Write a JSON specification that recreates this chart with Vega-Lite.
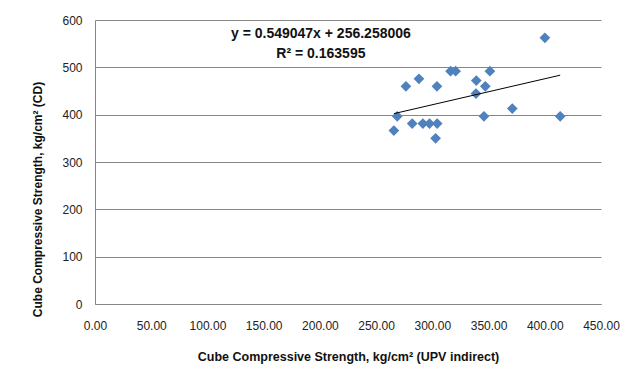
{
  "$schema": "https://vega.github.io/schema/vega-lite/v6.json",
  "width": 506,
  "height": 284,
  "autosize": {"type": "none"},
  "padding": {"left": 95, "top": 20, "right": 40, "bottom": 75},
  "background": "white",
  "config": {
    "view": {"stroke": null},
    "font": "Liberation Sans, sans-serif"
  },
  "datasets": {
    "pts": [
      {"upv": 400.1, "cd": 562.4},
      {"upv": 276.5, "cd": 460.0},
      {"upv": 288.1, "cd": 475.7},
      {"upv": 304.1, "cd": 460.0},
      {"upv": 316.2, "cd": 491.8},
      {"upv": 320.7, "cd": 491.8},
      {"upv": 339.1, "cd": 472.0},
      {"upv": 347.1, "cd": 460.0},
      {"upv": 351.2, "cd": 491.8},
      {"upv": 338.8, "cd": 444.6},
      {"upv": 371.1, "cd": 413.0},
      {"upv": 345.9, "cd": 396.6},
      {"upv": 413.7, "cd": 396.6},
      {"upv": 268.8, "cd": 396.6},
      {"upv": 265.8, "cd": 366.4},
      {"upv": 282.1, "cd": 381.2},
      {"upv": 291.6, "cd": 381.2},
      {"upv": 297.5, "cd": 381.2},
      {"upv": 304.3, "cd": 381.2},
      {"upv": 302.9, "cd": 350.0}
    ],
    "trend": [
      {"upv": 265.8, "cd": 402.2},
      {"upv": 413.7, "cd": 483.4}
    ],
    "labels": [
      {"upv": 200.9, "cd": 571, "txt": "y = 0.549047x  + 256.258006"},
      {"upv": 200.9, "cd": 529, "txt": "R² = 0.163595"}
    ]
  },
  "layer": [
    {
      "data": {"name": "pts"},
      "mark": {"type": "point", "shape": "diamond", "filled": true, "size": 115, "color": "#4F81BD", "opacity": 1},
      "encoding": {
        "x": {
          "field": "upv", "type": "quantitative",
          "scale": {"domain": [0, 450], "nice": false, "zero": false},
          "axis": {
            "values": [0, 50, 100, 150, 200, 250, 300, 350, 400, 450],
            "format": ".2f",
            "title": "Cube Compressive Strength, kg/cm² (UPV indirect)",
            "grid": false,
            "ticks": false,
            "labelFlush": false,
            "labelOverlap": false,
            "domainColor": "#868686",
            "labelPadding": 16,
            "labelFontSize": 12,
            "labelColor": "#222222",
            "titleFontSize": 12.5,
            "titleFontWeight": "bold",
            "titleColor": "#111111",
            "titlePadding": 19
          }
        },
        "y": {
          "field": "cd", "type": "quantitative",
          "scale": {"domain": [0, 600], "nice": false},
          "axis": {
            "values": [0, 100, 200, 300, 400, 500, 600],
            "title": "Cube Compressive Strength, kg/cm² (CD)",
            "grid": true,
            "gridColor": "#868686",
            "gridWidth": 1,
            "ticks": false,
            "domainColor": "#868686",
            "labelPadding": 13,
            "labelFontSize": 12,
            "labelColor": "#222222",
            "titleFontSize": 12,
            "titleFontWeight": "bold",
            "titleColor": "#111111",
            "titlePadding": 17,
            "titleY": 179
          }
        }
      }
    },
    {
      "data": {"name": "trend"},
      "mark": {"type": "line", "color": "#000000", "strokeWidth": 1},
      "encoding": {
        "x": {"field": "upv", "type": "quantitative"},
        "y": {"field": "cd", "type": "quantitative"}
      }
    },
    {
      "data": {"name": "labels"},
      "mark": {"type": "text", "fontWeight": "bold", "fontSize": 14, "color": "#111111", "align": "center", "baseline": "middle"},
      "encoding": {
        "x": {"field": "upv", "type": "quantitative"},
        "y": {"field": "cd", "type": "quantitative"},
        "text": {"field": "txt"}
      }
    }
  ]
}
